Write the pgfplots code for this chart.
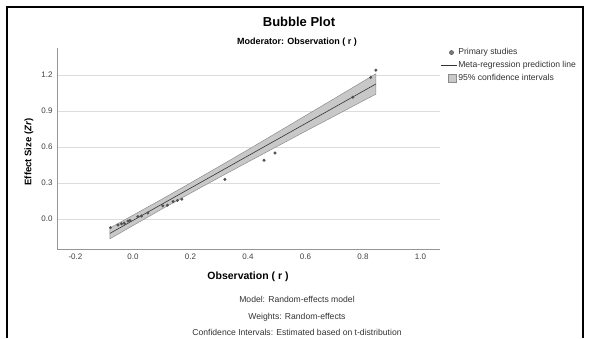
\documentclass[border=0pt]{standalone}
\usepackage{pgfplots}
\pgfplotsset{compat=1.18}
\usepackage{fontspec}
\setmainfont{Liberation Sans}
\definecolor{bandfill}{RGB}{200,200,200}
\definecolor{bandedge}{RGB}{140,140,140}
\definecolor{ptcol}{RGB}{80,80,80}
\definecolor{gridcol}{RGB}{220,220,220}
\definecolor{axcol}{RGB}{150,150,150}
\begin{document}
\begin{tikzpicture}[x=1pt,y=1pt]
\useasboundingbox (0,0) rectangle (589,338);
\fill[white] (0,0) rectangle (589,338);
\draw[black, line width=2.5pt] (7,0) -- (7,331) -- (583,331) -- (583,0);
\begin{axis}[
  at={(57pt,89pt)}, anchor=south west,
  width=383pt, height=201pt, scale only axis,
  xmin=-0.264, xmax=1.068, ymin=-0.25, ymax=1.425,
  axis x line*=bottom, axis y line*=left,
  axis line style={-, draw=axcol},
  xtick={-0.2,0,0.2,0.4,0.6,0.8,1.0},
  ytick={0,0.3,0.6,0.9,1.2},
  major tick length=0pt,
  ymajorgrids, grid style={gridcol, line width=0.8pt},
  /pgf/number format/assume math mode=true,
  /pgf/number format/.cd, fixed, fixed zerofill, precision=1, /pgfplots/.cd,
  tick label style={font=\fontsize{8}{9}\selectfont, text=black!75},
  xticklabel style={yshift=-1pt},
  yticklabel style={xshift=-1pt},
  legend style={at={(1,1)}, anchor=north west, yshift=1pt, draw=none, fill=none,
    font=\fontsize{8.6}{10}\selectfont, inner sep=0pt, row sep=2pt,
    nodes={inner sep=1.5pt, text=black!80}},
  legend cell align=left,
]
\addlegendimage{legend image code/.code={\path[draw=none,fill=none] (0,-4pt) rectangle (16pt,4pt); \filldraw[fill=gray, draw=ptcol, line width=0.6pt] (11pt,0) circle (2pt);}}
\addlegendentry{Primary studies}
\addlegendimage{legend image code/.code={\path[draw=none,fill=none] (0,-4pt) rectangle (16pt,4pt); \draw[black!80, line width=0.6pt] (0,0) -- (16pt,0);}}
\addlegendentry{Meta-regression prediction line}
\addlegendimage{legend image code/.code={\path[draw=none,fill=none] (0,-4pt) rectangle (16pt,4pt); \draw[fill=bandfill, draw=bandedge] (8pt,-4pt) rectangle (16pt,4pt);}}
\addlegendentry{95\% confidence intervals}
% confidence band
\addplot[fill=bandfill, draw=bandedge, line width=0.5pt, forget plot] coordinates {
(-0.08,-0.075) (0,0.031) (0.1,0.164) (0.2,0.300) (0.3,0.438) (0.4,0.577)
(0.5,0.719) (0.6,0.861) (0.7,1.003) (0.8,1.146) (0.845,1.210)
(0.845,1.040) (0.8,0.984) (0.7,0.857) (0.6,0.731) (0.5,0.603) (0.4,0.475)
(0.3,0.346) (0.2,0.215) (0.1,0.082) (0,-0.055) (-0.08,-0.165)
} -- cycle;
% prediction line
\addplot[black!80, line width=0.6pt, forget plot] coordinates {(-0.08,-0.120) (0.845,1.125)};
% primary studies
\addplot[only marks, mark=*, mark size=1.3pt, ptcol, forget plot] coordinates {
(-0.078,-0.072) (-0.052,-0.05) (-0.04,-0.04) (-0.03,-0.035) (-0.017,-0.017)
(-0.01,-0.012) (0.017,0.02) (0.03,0.025) (0.052,0.05) (0.104,0.11)
(0.12,0.115) (0.14,0.145) (0.155,0.155) (0.17,0.165) (0.32,0.33)
(0.456,0.49) (0.494,0.55) (0.765,1.015) (0.827,1.18) (0.845,1.24)
};
\end{axis}
\node[font=\bfseries\fontsize{13}{15}\selectfont] at (299,316) {Bubble Plot};
\node[font=\bfseries\fontsize{9}{11}\selectfont] at (297,296) {Moderator: Observation ( r )};
\node[font=\bfseries\fontsize{10.5}{12}\selectfont] at (248,61) {Observation ( r )};
\node[font=\bfseries\fontsize{9.5}{11}\selectfont, rotate=90] at (29,186) {Effect Size (\textit{Zr})};
\node[font=\fontsize{8.6}{10}\selectfont, text=black!80] at (297,39) {Model: Random-effects model};
\node[font=\fontsize{8.6}{10}\selectfont, text=black!80] at (297,21) {Weights: Random-effects};
\node[font=\fontsize{8.6}{10}\selectfont, text=black!80] at (297,5.5) {Confidence Intervals: Estimated based on t-distribution};
\end{tikzpicture}
\end{document}
